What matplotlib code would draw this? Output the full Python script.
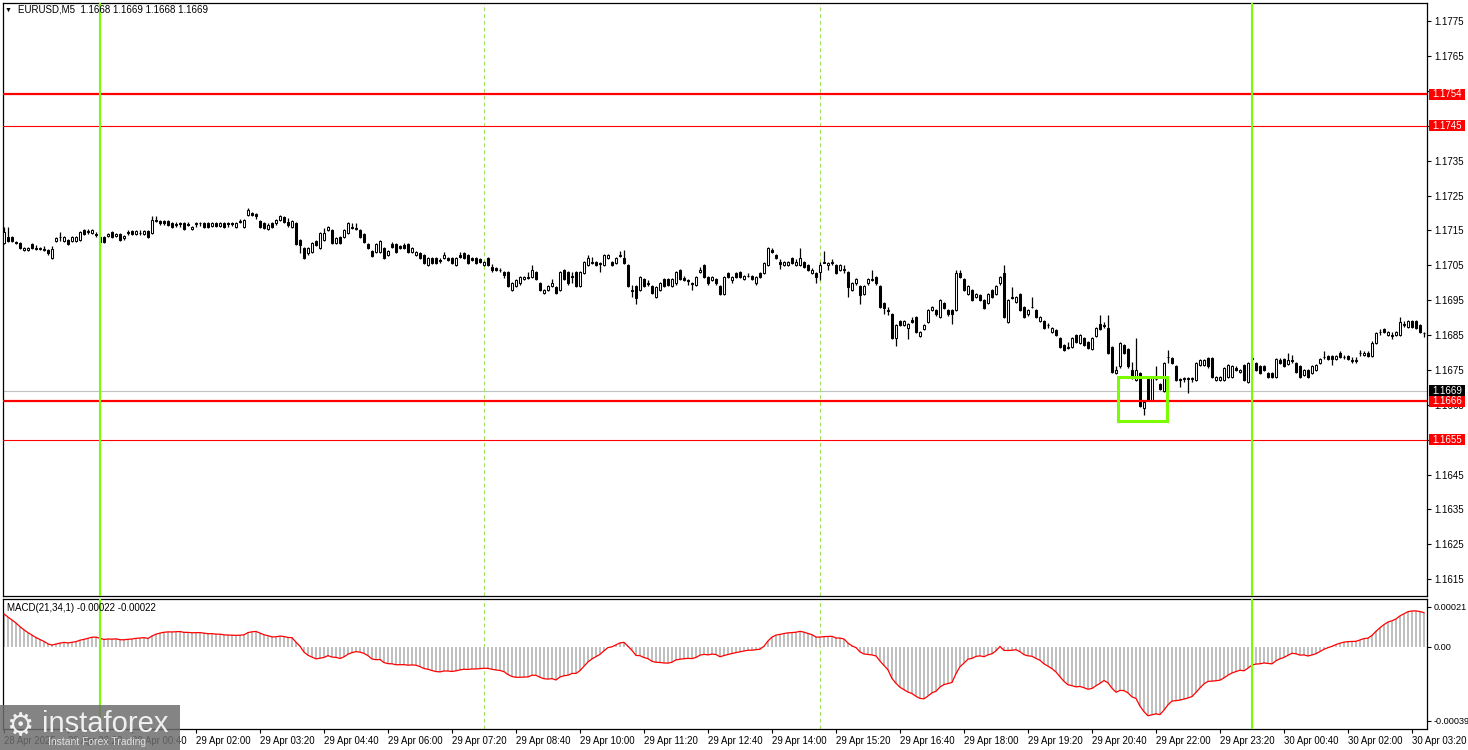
import numpy as np
import matplotlib
matplotlib.use("Agg")
import matplotlib.pyplot as plt
from matplotlib.patches import Rectangle
import matplotlib.transforms as mtransforms

plt.rcParams['font.family'] = ['Liberation Sans', 'DejaVu Sans']

# EURUSD M5 candles, prices in pips above base
base = 1.1600
opens = [
    111.3, 113.0, 113.0, 111.6, 111.3, 109.4, 109.4, 111.0, 110.0, 109.6,
    109.8, 109.4, 107.0, 111.9, 113.0, 112.0, 112.3, 112.0, 112.0, 112.2,
    115.0, 114.8, 114.2, 114.0, 113.2, 113.0, 113.4, 114.6, 113.3, 114.1,
    112.7, 114.6, 114.9, 113.9, 114.2, 113.9, 114.9, 114.2, 118.0, 117.7,
    117.7, 117.7, 117.2, 116.8, 117.0, 117.0, 116.8, 115.3, 117.0, 117.2,
    117.0, 117.0, 116.3, 117.0, 116.3, 117.0, 117.0, 117.0, 116.1, 117.7,
    116.1, 119.4, 120.0, 119.7, 117.8, 117.0, 115.3, 117.0, 117.0, 118.0,
    118.9, 117.5, 116.1, 117.0, 112.2, 110.0, 108.4, 108.9, 112.0, 109.9,
    112.2, 115.1, 115.1, 111.3, 113.2, 113.2, 114.2, 116.1, 115.8, 115.1,
    113.9, 111.0, 109.2, 108.9, 108.9, 109.9, 108.0, 111.0, 111.0, 110.4,
    110.9, 111.0, 108.9, 108.0, 108.4, 108.0, 105.1, 107.0, 107.0, 106.5,
    107.0, 107.0, 107.0, 105.1, 108.0, 108.4, 108.0, 107.0, 107.0, 106.8,
    105.1, 107.0, 104.6, 104.1, 103.7, 103.2, 103.2, 97.9, 99.1, 99.8,
    101.0, 101.7, 101.7, 103.2, 99.8, 97.0, 97.9, 99.1, 98.9, 97.9,
    103.6, 103.2, 102.0, 103.2, 99.1, 102.7, 105.1, 106.0, 106.0, 105.6,
    105.1, 107.0, 106.0, 105.6, 108.0, 107.0, 105.1, 97.9, 99.1, 97.9,
    101.0, 99.9, 99.1, 95.8, 97.9, 101.0, 101.0, 99.1, 99.8, 103.6,
    101.3, 100.8, 99.8, 99.4, 103.2, 105.1, 101.7,
    100.8, 101.0, 99.1, 96.9, 102.9, 100.8, 102.9, 103.2, 101.0, 102.0,
    101.9, 99.8, 102.9, 102.9, 105.1, 109.3, 107.9, 106.0, 105.1, 105.1,
    107.0, 105.1, 105.1, 106.0, 105.1, 102.9, 102.9, 103.2, 106.0, 105.1,
    106.0, 105.1, 103.8, 103.8, 103.2, 97.9, 99.8, 99.1, 96.9, 99.8,
    101.0, 101.7, 99.1, 94.3, 92.2, 90.9, 84.1, 89.1, 87.9, 86.9,
    89.3, 90.1, 84.7, 86.7, 88.8, 92.2, 92.2, 90.1, 94.3, 92.2,
    92.2, 92.2, 102.7, 101.0, 96.9, 97.9, 96.0, 96.5, 95.0, 94.1,
    97.9, 96.9, 99.8, 102.9, 88.8, 95.8, 94.6, 96.9, 93.1, 90.9,
    93.1, 92.2, 89.1, 89.1, 87.9, 86.0, 86.5, 84.1, 82.2,
    81.7, 81.7, 85.0, 82.6, 84.1, 83.1, 80.9, 84.7, 88.2, 87.9,
    86.9, 81.7, 74.1, 76.0, 82.2, 81.0, 75.0, 72.1, 74.2, 64.0,
    72.3, 66.4, 72.5, 71.0, 69.1, 78.8, 78.3, 76.2, 72.3, 72.6,
    72.6, 72.4, 72.1, 76.4, 76.4, 78.3, 78.3, 72.1, 72.1, 72.1,
    72.9, 73.1, 75.5, 74.5, 76.4, 71.6, 78.3, 76.9, 76.2, 76.2,
    74.2, 74.2, 72.9, 77.9, 78.1, 76.7, 77.9, 76.9, 76.2, 73.6,
    75.0, 74.2, 75.0, 76.9, 78.8, 79.0, 79.0, 78.1, 80.0, 78.8,
    79.0, 77.9, 77.9, 80.0, 79.3, 80.0, 79.0, 82.8, 86.0, 86.6,
    85.0, 85.0, 85.0, 85.0, 88.2, 87.4, 88.9, 88.9, 87.9, 85.5,
]
highs = [
    116.0, 116.0, 113.4, 112.0, 111.6, 110.3, 110.3, 111.3, 110.8, 110.3,
    110.5, 109.8, 110.5, 113.2, 114.6, 113.3, 112.6, 113.3, 113.5, 114.9,
    115.3, 115.4, 115.3, 114.5, 113.5, 113.3, 114.3, 114.9, 114.3, 114.4,
    113.7, 115.2, 115.2, 115.2, 115.0, 115.2, 115.2, 119.0, 119.0, 118.0,
    118.0, 118.0, 117.5, 117.3, 117.3, 117.3, 117.5, 116.4, 117.3, 117.5,
    117.3, 117.3, 117.3, 117.3, 117.3, 117.3, 117.4, 117.4, 117.3, 118.2,
    118.3, 121.3, 120.3, 120.0, 118.1, 117.3, 117.0, 117.3, 118.3, 119.4,
    119.2, 118.5, 118.1, 117.3, 112.5, 110.3, 110.2, 111.6, 112.3, 114.5,
    115.6, 116.4, 115.4, 113.0, 113.5, 115.4, 117.5, 117.0, 117.0, 115.4,
    114.3, 111.3, 109.5, 111.3, 112.3, 110.2, 109.5, 111.6, 111.3, 110.8,
    111.3, 111.3, 110.2, 109.2, 108.7, 108.3, 107.3, 107.3, 107.3, 107.0,
    108.9, 107.5, 107.3, 107.3, 108.9, 108.7, 108.3, 107.4, 107.3, 107.2,
    106.3, 107.3, 105.5, 104.6, 104.1, 103.5, 103.5, 100.1, 101.1, 102.0,
    102.0, 103.2, 105.0, 103.5, 100.1, 98.2, 99.4, 101.0, 99.2, 103.5,
    103.9, 103.5, 103.2, 103.5, 103.5, 106.3, 108.0, 107.5, 106.3, 106.0,
    108.3, 108.3, 106.3, 107.3, 109.0, 109.5, 105.4, 99.4, 99.4, 102.0,
    101.3, 100.8, 99.4, 99.2, 100.1, 101.3, 101.3, 101.3, 103.5, 103.9,
    101.8, 101.2, 100.3, 102.0, 104.6, 105.4, 102.0,
    102.0, 101.3, 99.4, 102.0, 103.2, 101.9, 103.2, 103.5, 102.2, 102.9,
    102.2, 102.0, 103.2, 106.0, 110.2, 110.0, 108.2, 106.8, 106.3, 106.3,
    107.3, 106.7, 109.9, 106.3, 105.4, 104.1, 103.2, 106.0, 109.0, 105.9,
    106.7, 105.4, 105.4, 105.1, 103.5, 100.1, 101.3, 99.4, 99.4, 101.3,
    103.6, 102.0, 99.4, 94.6, 93.1, 91.2, 88.2, 89.4, 89.4, 88.4,
    90.1, 90.4, 86.3, 88.2, 92.5, 93.4, 92.5, 95.3, 94.6, 92.5,
    92.5, 103.8, 103.6, 101.3, 99.4, 98.2, 97.2, 96.8, 95.3, 97.2,
    98.2, 99.4, 102.0, 105.1, 95.3, 98.9, 96.3, 97.2, 93.4, 92.5,
    96.0, 92.5, 90.4, 89.4, 88.6, 87.2, 86.8, 84.4, 82.5,
    83.1, 84.4, 85.3, 85.3, 84.4, 83.4, 84.4, 87.2, 90.8, 88.8,
    90.8, 82.0, 76.0, 83.1, 82.5, 81.3, 77.4, 84.1, 74.5, 66.2,
    72.6, 73.2, 76.0, 71.3, 77.2, 80.7, 78.6, 76.5, 72.6, 73.1,
    73.1, 73.1, 77.2, 78.1, 78.1, 78.6, 78.6, 73.2, 73.2, 75.8,
    76.7, 76.3, 76.2, 75.3, 76.7, 77.2, 79.3, 77.2, 76.5, 76.5,
    74.5, 74.5, 78.4, 78.4, 78.4, 80.0, 79.3, 77.2, 76.5, 75.3,
    75.3, 76.3, 76.7, 78.4, 80.3, 79.3, 79.3, 79.3, 80.3, 79.3,
    79.3, 78.8, 78.8, 80.7, 80.3, 80.3, 83.4, 85.8, 86.7, 86.9,
    86.3, 85.8, 86.3, 90.3, 89.0, 89.2, 89.2, 89.2, 88.2, 86.0,
]
lows = [
    111.0, 111.8, 111.7, 111.0, 109.7, 109.2, 109.2, 109.7, 109.3, 109.3,
    109.2, 108.0, 106.8, 111.6, 112.0, 111.7, 110.9, 111.7, 111.8, 112.0,
    113.7, 114.0, 114.0, 113.0, 111.5, 111.5, 113.1, 112.9, 113.0, 111.9,
    112.4, 113.6, 113.8, 113.6, 113.6, 113.6, 112.7, 114.0, 117.3, 116.7,
    116.7, 116.3, 115.8, 115.9, 116.0, 115.0, 116.2, 115.0, 116.0, 116.2,
    115.8, 115.8, 116.0, 116.0, 116.0, 115.8, 116.0, 116.2, 115.8, 117.0,
    115.8, 119.1, 119.0, 118.4, 115.8, 115.5, 115.0, 115.8, 116.7, 117.7,
    117.2, 116.1, 115.8, 110.7, 108.4, 106.7, 108.1, 108.6, 110.5, 109.6,
    111.9, 114.8, 111.0, 111.0, 111.0, 112.9, 113.9, 115.5, 115.0, 112.9,
    111.5, 109.6, 107.4, 108.6, 108.6, 106.7, 107.7, 110.0, 108.6, 109.8,
    109.7, 108.6, 108.6, 107.7, 106.7, 105.4, 104.8, 105.4, 105.4, 105.7,
    106.7, 106.2, 105.4, 104.8, 107.2, 106.7, 105.4, 106.2, 105.4, 105.7,
    104.8, 104.8, 103.2, 103.4, 103.0, 101.3, 98.8, 97.6, 98.8, 99.5,
    100.7, 101.2, 101.4, 100.7, 97.6, 96.7, 97.6, 98.8, 96.7, 97.6,
    100.7, 99.5, 99.8, 98.8, 98.8, 102.4, 104.8, 105.3, 104.8, 103.2,
    104.8, 106.7, 104.8, 105.3, 107.3, 105.4, 98.8, 96.0, 94.0, 97.6,
    98.8, 99.0, 96.7, 95.5, 97.6, 98.8, 99.1, 98.8, 99.5, 100.7,
    100.5, 99.4, 97.9, 99.1, 102.9, 101.4, 99.5,
    100.5, 99.5, 96.6, 96.6, 101.4, 99.8, 101.4, 101.4, 100.7, 101.6,
    100.7, 99.5, 101.4, 102.6, 104.8, 108.6, 106.7, 104.0, 104.8, 104.8,
    105.3, 104.8, 104.8, 104.3, 103.5, 102.6, 99.8, 100.8, 105.6, 103.8,
    105.2, 102.6, 103.5, 102.9, 96.0, 97.6, 99.5, 94.0, 96.6, 99.5,
    100.4, 99.5, 92.8, 91.0, 90.8, 83.8, 81.9, 87.6, 87.6, 84.0,
    88.5, 85.7, 84.4, 86.4, 88.5, 91.9, 90.6, 89.8, 92.6, 90.6,
    88.2, 91.9, 101.4, 97.6, 96.6, 94.7, 95.7, 94.7, 92.6, 93.8,
    95.7, 96.6, 99.5, 89.8, 88.5, 95.3, 94.3, 91.9, 89.8, 90.6,
    92.8, 89.8, 88.8, 86.6, 86.9, 85.7, 84.7, 81.4, 80.4,
    81.0, 81.4, 82.8, 82.3, 81.9, 80.9, 80.6, 84.4, 86.4, 86.9,
    79.5, 74.2, 73.8, 75.7, 79.5, 75.7, 72.3, 71.8, 64.4, 62.1,
    66.1, 66.1, 72.0, 69.2, 68.8, 76.9, 76.6, 71.8, 70.2, 71.6,
    68.3, 71.6, 71.8, 76.1, 76.1, 75.7, 72.6, 71.8, 71.8, 71.8,
    72.6, 72.8, 74.7, 74.2, 71.8, 71.2, 77.8, 74.7, 73.9, 74.7,
    72.6, 72.6, 72.6, 76.6, 75.9, 76.4, 76.9, 74.2, 72.6, 73.3,
    72.6, 73.9, 74.7, 76.6, 78.0, 77.8, 76.4, 77.8, 78.5, 78.0,
    77.8, 76.9, 76.9, 79.0, 79.0, 78.7, 78.7, 82.5, 85.0, 85.7,
    84.7, 84.0, 84.7, 84.7, 87.2, 87.1, 87.1, 86.6, 85.7, 84.5,
]
closes = [
    114.6, 112.0, 112.0, 111.3, 110.0, 110.0, 110.0, 110.0, 109.6, 110.0,
    109.5, 108.4, 109.8, 112.9, 113.2, 113.0, 111.2, 113.0, 113.2, 114.6,
    114.0, 114.6, 115.0, 113.7, 111.8, 111.8, 114.0, 113.2, 114.0, 112.2,
    113.4, 114.3, 114.1, 114.9, 114.4, 114.9, 113.0, 118.0, 117.7, 117.0,
    117.0, 116.6, 116.1, 116.6, 116.8, 115.3, 116.6, 116.1, 116.8, 117.0,
    116.1, 116.1, 117.0, 116.3, 117.0, 116.1, 116.8, 116.8, 117.0, 117.5,
    118.0, 121.0, 119.4, 119.0, 116.1, 115.8, 116.7, 116.1, 118.0, 119.1,
    117.5, 116.6, 117.8, 111.0, 110.8, 107.0, 109.9, 111.3, 110.8, 114.2,
    114.2, 116.1, 111.3, 112.7, 111.3, 115.1, 117.2, 115.8, 115.3, 113.2,
    111.8, 109.9, 107.7, 111.0, 112.0, 107.0, 109.2, 110.3, 108.9, 110.0,
    110.0, 108.9, 109.9, 108.9, 107.0, 105.7, 107.0, 105.7, 105.7, 106.3,
    108.0, 106.5, 105.7, 107.0, 107.5, 107.0, 105.7, 106.5, 105.7, 106.0,
    106.0, 105.1, 103.7, 103.7, 103.6, 102.2, 99.1, 99.8, 100.8, 101.7,
    101.7, 101.5, 103.6, 101.0, 97.9, 97.9, 99.1, 100.0, 97.0, 103.2,
    101.0, 99.8, 101.7, 99.1, 103.2, 106.0, 107.0, 105.6, 105.1, 105.5,
    108.0, 108.0, 105.1, 107.0, 107.6, 105.7, 99.1, 97.7, 95.5, 101.7,
    99.1, 99.7, 97.0, 98.9, 99.8, 99.1, 99.4, 101.0, 103.2, 101.0,
    100.8, 100.6, 99.6, 101.7, 103.6, 101.7, 99.8,
    101.7, 99.8, 96.9, 101.7, 101.7, 101.7, 101.7, 101.7, 101.9, 101.9,
    101.0, 101.7, 101.7, 105.7, 109.9, 108.9, 107.0, 105.5, 106.0, 106.0,
    105.6, 106.0, 107.0, 104.6, 103.8, 103.8, 101.7, 105.1, 105.8, 105.6,
    105.6, 102.9, 105.1, 103.8, 98.9, 99.8, 101.0, 96.5, 99.1, 101.0,
    100.8, 99.8, 93.1, 92.9, 92.0, 84.1, 87.9, 87.9, 89.1, 88.1,
    88.8, 86.0, 86.0, 87.9, 92.2, 93.1, 90.9, 95.0, 92.9, 90.9,
    90.9, 102.9, 101.7, 97.9, 99.1, 95.0, 96.9, 95.0, 92.9, 96.9,
    96.0, 99.1, 101.7, 90.1, 95.0, 95.5, 96.0, 92.2, 90.1, 92.2,
    93.1, 90.1, 90.1, 86.9, 87.9, 86.9, 85.0, 81.7, 80.7,
    81.3, 84.1, 83.1, 85.0, 82.2, 81.2, 84.1, 86.9, 86.7, 87.7,
    79.8, 74.5, 75.0, 82.8, 79.8, 76.0, 72.6, 75.0, 64.7, 65.9,
    66.4, 72.9, 72.4, 69.5, 76.9, 78.6, 76.9, 72.1, 72.1, 72.4,
    72.4, 72.6, 76.9, 77.9, 77.9, 76.0, 72.9, 72.9, 72.9, 75.5,
    76.4, 76.0, 75.0, 75.0, 72.1, 76.9, 78.1, 75.0, 74.2, 75.0,
    72.9, 72.9, 78.1, 76.9, 76.2, 77.9, 77.7, 74.5, 72.9, 75.0,
    72.9, 76.0, 76.4, 78.1, 78.6, 78.1, 78.1, 79.0, 78.8, 78.6,
    78.1, 77.7, 77.7, 79.8, 80.0, 79.0, 82.8, 85.5, 85.8, 86.0,
    86.0, 84.8, 86.0, 88.8, 88.0, 88.9, 87.4, 86.9, 86.0, 85.6,
]

time_tick_bars = list(range(0, 353, 16))
time_tick_labels = [
    "28 Apr 2025", "28 Apr 23:20", "29 Apr 00:40", "29 Apr 02:00", "29 Apr 03:20",
    "29 Apr 04:40", "29 Apr 06:00", "29 Apr 07:20", "29 Apr 08:40", "29 Apr 10:00",
    "29 Apr 11:20", "29 Apr 12:40", "29 Apr 14:00", "29 Apr 15:20", "29 Apr 16:40",
    "29 Apr 18:00", "29 Apr 19:20", "29 Apr 20:40", "29 Apr 22:00", "29 Apr 23:20",
    "30 Apr 00:40", "30 Apr 02:00", "30 Apr 03:20",
]
price_ticks = [1.1615, 1.1625, 1.1635, 1.1645, 1.1655, 1.1665, 1.1675, 1.1685,
               1.1695, 1.1705, 1.1715, 1.1725, 1.1735, 1.1745, 1.1755, 1.1765, 1.1775]
# labels hidden under the level boxes are left blank
price_tick_labels = ["1.1615", "1.1625", "1.1635", "1.1645", "", "1.1665", "1.1675",
                     "1.1685", "1.1695", "1.1705", "1.1715", "1.1725", "1.1735", "",
                     "", "1.1765", "1.1775"]
levels_thick = [1.1754, 1.1666]
levels_thin = [1.1745, 1.1655]
bid_price = 1.1669
midnight_bars = [24, 312]
session_bars = [120, 204]
signal_box = (278.5, 290.75, 1.16604, 1.16730)
macd_ticks = [0.00021, 0.0, -0.00039]
macd_tick_labels = ["0.00021", "0.00", "-0.00039"]
ema_fast_start, ema_slow_start = 1.17140, 1.17122

W, H = 1468, 750
fig = plt.figure(figsize=(W / 100, H / 100), dpi=100)

def px(l, t, r, b):
    return [l / W, 1 - b / H, (r - l) / W, (b - t) / H]

ax = fig.add_axes(px(3, 3, 1427, 596))
axm = fig.add_axes(px(3, 599, 1427, 729))

o = base + np.array(opens) / 1e4
h = base + np.array(highs) / 1e4
l = base + np.array(lows) / 1e4
c = base + np.array(closes) / 1e4
x = np.arange(len(c))

# candles
ax.vlines(x, l, h, colors='black', lw=0.9, zorder=3)
up = c >= o
bot = np.minimum(o, c)
ht = np.maximum(np.abs(c - o), 0.000002)
ax.bar(x[up], ht[up], bottom=bot[up], width=0.62, color='white',
       edgecolor='black', linewidth=0.75, zorder=4)
ax.bar(x[~up], ht[~up], bottom=bot[~up], width=0.62, color='black',
       edgecolor='black', linewidth=0.75, zorder=4)

# levels
for lv in levels_thick:
    ax.axhline(lv, color='#ff0000', lw=1.6, zorder=5)
for lv in levels_thin:
    ax.axhline(lv, color='#ff0000', lw=0.8, zorder=5)
ax.axhline(bid_price, color='#c0c0c0', lw=0.8, zorder=1)

for a in (ax, axm):
    for b in midnight_bars:
        a.axvline(b, color='#7cfc00', lw=1.5, zorder=6)
    for b in session_bars:
        a.axvline(b, color='#9be15a', lw=0.7, dashes=(4, 3), zorder=1)

x0, x1, y0, y1 = signal_box
ax.add_patch(Rectangle((x0, y0), x1 - x0, y1 - y0, fill=False,
                       edgecolor='#7cfc00', lw=2.2, zorder=7))

# MACD(21,34,1)
ef, es = ema_fast_start, ema_slow_start
macd = []
for p in c:
    ef += (p - ef) * 2 / 22
    es += (p - es) * 2 / 35
    macd.append(ef - es)
macd = np.array(macd)
axm.bar(x, macd, width=0.45, color='#c0c0c0', zorder=2)
axm.plot(x, macd, color='#ff0000', lw=0.9, zorder=3)

# axes styling
for a in (ax, axm):
    a.set_xlim(-0.25, 355.75)
    a.yaxis.tick_right()
    a.tick_params(axis='y', direction='out', length=3, width=0.8, pad=2.5,
                  labelsize=7, colors='black')
    for s in a.spines.values():
        s.set_color('black')
        s.set_linewidth(0.9)
    a.set_facecolor('white')

ylo, yhi = 1.16102, 1.17802
ax.set_ylim(ylo, yhi)
ax.set_yticks(price_ticks)
ax.set_yticklabels(price_tick_labels)
ax.set_xticks([])

axm.set_ylim(-0.000432, 0.000250)
axm.set_yticks(macd_ticks)
axm.set_yticklabels(macd_tick_labels)
axm.tick_params(axis='y', labelsize=6.6, pad=2)
axm.set_xticks(time_tick_bars)
axm.set_xticklabels(time_tick_labels)
axm.tick_params(axis='x', direction='out', length=3, width=0.8, pad=2,
                labelsize=6.9, colors='black')
for lbl in axm.get_xticklabels():
    lbl.set_ha('left')

# price boxes on the right scale
tr = mtransforms.blended_transform_factory(ax.transAxes, ax.transData)
box_h = 11 * (yhi - ylo) / 593
bx0 = (1429 - 3) / 1424
bw = 36 / 1424
def price_box(lv, fc, z):
    ax.add_patch(Rectangle((bx0, lv - box_h / 2), bw, box_h, transform=tr,
                           facecolor=fc, edgecolor='none', clip_on=False, zorder=z))
    ax.text(bx0 + bw / 2, lv, f"{lv:.4f}", transform=tr, ha='center', va='center',
            fontsize=7, color='white', clip_on=False, zorder=z + 0.5)

price_box(bid_price, 'black', 9)
for lv in levels_thick + levels_thin:
    price_box(lv, '#ff0000', 10)

# headers
fig.text(5 / W, 1 - 10 / H, "\u25bc", fontsize=5, va='center', ha='left', color='black')
fig.text(18 / W, 1 - 10 / H, "EURUSD,M5  1.1668 1.1669 1.1668 1.1669",
         fontsize=7, va='center', ha='left', color='black')
fig.text(7 / W, 1 - 608 / H, "MACD(21,34,1) -0.00022 -0.00022",
         fontsize=7, va='center', ha='left', color='black')

# watermark
fig.add_artist(Rectangle((0, 0), 180 / W, 45 / H, transform=fig.transFigure,
                         facecolor='#6e6e6e', alpha=0.85, edgecolor='none', zorder=20))
fig.text(6 / W, 1 - 727 / H, "\u2699", fontsize=22, color='#f0f0f0',
         va='center', ha='left', family='DejaVu Sans', zorder=21)
fig.text(42 / W, 1 - 724 / H, "instaforex", fontsize=21, color='#f0f0f0',
         va='center', ha='left', zorder=21)
fig.text(48 / W, 1 - 742 / H, "Instant Forex Trading", fontsize=7.5, color='#e0e0e0',
         va='center', ha='left', zorder=21)

fig.savefig("out.png", dpi=100)
